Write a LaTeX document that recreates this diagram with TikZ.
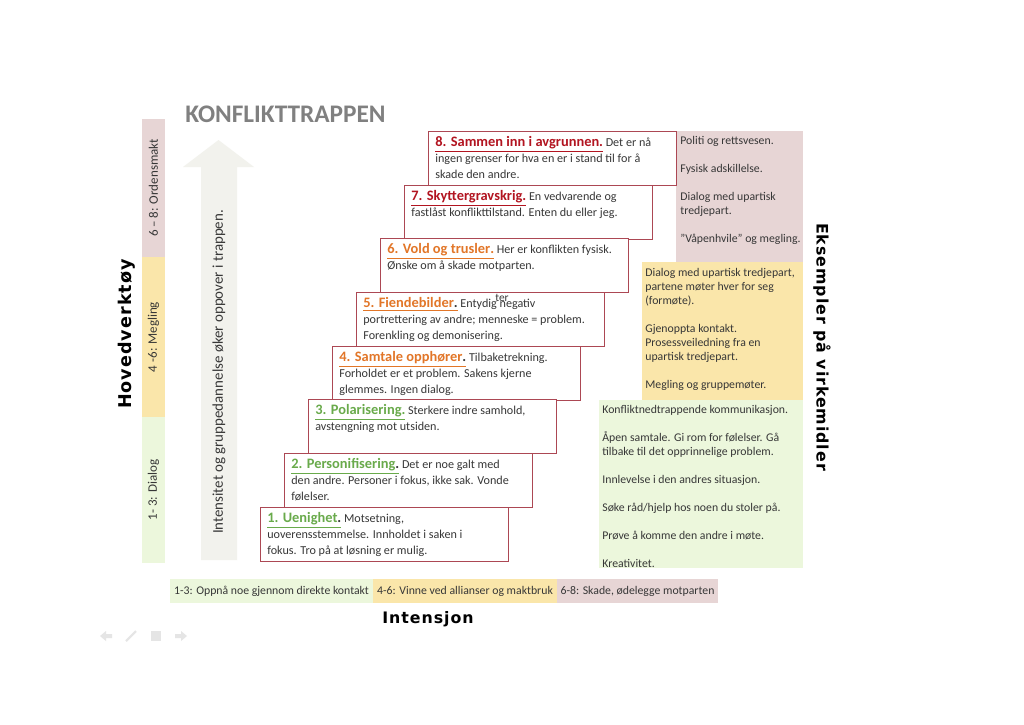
\documentclass[tikz,border=0pt]{standalone}
\usepackage{fontspec}
\setmainfont{Carlito}
\newfontfamily\headfont[LetterSpace=6]{DejaVu Sans}
\usepackage{tikz}
\definecolor{stepline}{RGB}{172,72,84}
\definecolor{stepgreen}{RGB}{105,170,75}
\definecolor{steporange}{RGB}{226,118,40}
\definecolor{stepred}{RGB}{178,20,32}
\definecolor{bodytext}{RGB}{55,55,55}
\definecolor{bggreen}{RGB}{236,247,220}
\definecolor{bgyellow}{RGB}{250,230,170}
\definecolor{bgpink}{RGB}{231,213,213}
\definecolor{arrowfill}{RGB}{242,242,237}
\definecolor{titlegray}{RGB}{128,128,128}
\tikzset{
  stepbox/.style ={draw=stepline, fill=white, line width=0.55pt, minimum width=4.96cm, minimum height=1.08cm, inner sep=0pt, anchor=north west},
  steptxt/.style ={font=\fontsize{6.9}{9.1}\selectfont, text=bodytext, align=left, inner sep=0pt, anchor=north west},
  sidetxt/.style ={font=\fontsize{6.7}{7.97}\selectfont, text=bodytext, align=left, inner sep=0pt, anchor=north west},
  coltxt/.style  ={font=\fontsize{7.4}{8}\selectfont, text=bodytext, inner sep=0pt},
  bartxt/.style  ={font=\fontsize{6.7}{8}\selectfont, text=bodytext, inner sep=0pt},
  axlab/.style   ={font=\headfont\bfseries\fontsize{9}{11}\selectfont, text=black, inner sep=0pt},
}
\newcommand{\steptitle}[3]{\textcolor{#1}{\underline{\fontsize{8.2}{9.1}\selectfont\bfseries #2\textcolor{#3}{.}}}}

\begin{document}
\begin{tikzpicture}[x=0.02cm,y=-0.02cm]
  \useasboundingbox[fill=white] (0,0) rectangle (1024,724);
  \node[font=\bfseries\fontsize{14.4}{16}\selectfont, text=titlegray, anchor=west, inner sep=0pt] (title) at (185,114) {KONFLIKTTRAPPEN};
  \fill[bgpink] (142,119) rectangle (165,257);
  \fill[bgyellow] (142,257) rectangle (165,417);
  \fill[bggreen] (142,417) rectangle (165,563);
  \node[coltxt,rotate=90] (hv3) at (153.5,188) {6 – 8: Ordensmakt};
  \node[coltxt,rotate=90] (hv2) at (153.5,337) {4 -6: Megling};
  \node[coltxt,rotate=90] (hv1) at (153.5,490) {1- 3: Dialog};
  \node[axlab,rotate=90,font=\headfont\bfseries\fontsize{10}{11}\selectfont] (hov) at (127,334) {Hovedverktøy};
  \fill[arrowfill] (201,560) -- (201,167) -- (183,167) -- (218.5,140) -- (254,167) -- (237,167) -- (237,560) -- cycle;
  \node[font=\fontsize{8.5}{9}\selectfont, text=bodytext, rotate=90, inner sep=0pt] (arrtxt) at (219,372) {Intensitet og gruppedannelse øker oppover i trappen.};
  \fill[bgpink] (676,131) rectangle (803,262);
  \fill[bgyellow] (642,262) rectangle (803,400);
  \fill[bggreen] (599,400) rectangle (803,568);
  \node[sidetxt] (ex3) at (680,136) {Politi og rettsvesen.\\[0.28cm]Fysisk adskillelse.\\[0.28cm]Dialog med upartisk\\tredjepart.\\[0.28cm]”Våpenhvile” og megling.};
  \node[sidetxt] (ex2) at (645,268) {Dialog med upartisk tredjepart,\\partene møter hver for seg\\(formøte).\\[0.28cm]Gjenoppta kontakt.\\Prosessveiledning fra en\\upartisk tredjepart.\\[0.28cm]Megling og gruppemøter.};
  \node[sidetxt] (ex1) at (602,405) {Konfliktnedtrappende kommunikasjon.\\[0.28cm]Åpen samtale. Gi rom for følelser. Gå\\tilbake til det opprinnelige problem.\\[0.28cm]Innlevelse i den andres situasjon.\\[0.28cm]Søke råd/hjelp hos noen du stoler på.\\[0.28cm]Prøve å komme den andre i møte.\\[0.28cm]Kreativitet.};
  \node[axlab,rotate=-90] (eks) at (822,347) {Eksempler på virkemidler};
  \node[stepbox] (s8) at (428,131) {};
  \node[steptxt] (t8) at ([xshift=0.14cm,yshift=-0.10cm]s8.north west) {\steptitle{stepred}{8. Sammen inn i avgrunnen}{stepred} Det er nå\\ingen grenser for hva en er i stand til for å\\skade den andre.};
  \node[stepbox] (s7) at (404,185) {};
  \node[steptxt] (t7) at ([xshift=0.14cm,yshift=-0.10cm]s7.north west) {\steptitle{stepred}{7. Skyttergravskrig}{stepred} En vedvarende og\\fastlåst konflikttilstand. Enten du eller jeg.};
  \node[stepbox] (s6) at (380,238) {};
  \node[steptxt] (t6) at ([xshift=0.14cm,yshift=-0.10cm]s6.north west) {\steptitle{steporange}{6. Vold og trusler}{steporange} Her er konflikten fysisk.\\Ønske om å skade motparten.};
  \node[stepbox] (s5) at (356,292) {};
  \node[steptxt] (t5) at ([xshift=0.14cm,yshift=-0.10cm]s5.north west) {\steptitle{steporange}{5. Fiendebilder}{bodytext} Entydig negativ\\portrettering av andre; menneske = problem.\\Forenkling og demonisering.};
  \node[font=\fontsize{6.5}{7}\selectfont, text=bodytext, inner sep=0pt] (ter) at (502,298) {ter};
  \node[stepbox] (s4) at (332,346) {};
  \node[steptxt] (t4) at ([xshift=0.14cm,yshift=-0.10cm]s4.north west) {\steptitle{steporange}{4. Samtale opphører}{bodytext} Tilbaketrekning.\\Forholdet er et problem. Sakens kjerne\\glemmes. Ingen dialog.};
  \node[stepbox] (s3) at (308,399) {};
  \node[steptxt] (t3) at ([xshift=0.14cm,yshift=-0.10cm]s3.north west) {\steptitle{stepgreen}{3. Polarisering}{stepgreen} Sterkere indre samhold,\\avstengning mot utsiden.};
  \node[stepbox] (s2) at (284,453) {};
  \node[steptxt] (t2) at ([xshift=0.14cm,yshift=-0.10cm]s2.north west) {\steptitle{stepgreen}{2. Personifisering}{bodytext} Det er noe galt med\\den andre. Personer i fokus, ikke sak. Vonde\\følelser.};
  \node[stepbox] (s1) at (260,507) {};
  \node[steptxt] (t1) at ([xshift=0.14cm,yshift=-0.10cm]s1.north west) {\steptitle{stepgreen}{1. Uenighet}{bodytext} Motsetning,\\uoverensstemmelse. Innholdet i saken i\\fokus. Tro på at løsning er mulig.};
  \fill[bggreen] (170,579) rectangle (373,603);
  \fill[bgyellow] (373,579) rectangle (557,603);
  \fill[bgpink] (557,579) rectangle (718,603);
  \node[bartxt] (in1) at (271.5,591) {1-3: Oppnå noe gjennom direkte kontakt};
  \node[bartxt] (in2) at (465,591) {4-6: Vinne ved allianser og maktbruk};
  \node[bartxt] (in3) at (637.5,591) {6-8: Skade, ødelegge motparten};
  \node[axlab] (int) at (428,619) {Intensjon};
  \fill[black!10] (100,636) -- (106,631) -- (106,634) -- (112,634) -- (112,638) -- (106,638) -- (106,641) -- cycle;
  \draw[black!10,line width=1.2pt] (126,641) -- (136,631);
  \fill[black!10] (151,631) rectangle (161,641);
  \fill[black!10] (187,636) -- (181,631) -- (181,634) -- (175,634) -- (175,638) -- (181,638) -- (181,641) -- cycle;
\end{tikzpicture}
\end{document}
